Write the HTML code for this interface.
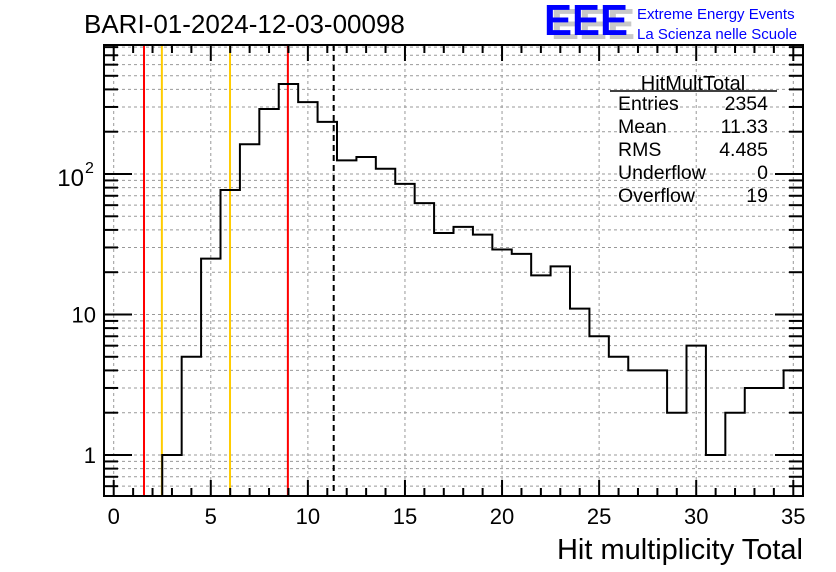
<!DOCTYPE html>
<html><head><meta charset="utf-8"><style>
body{margin:0;background:#fff;}
svg{display:block;font-family:"Liberation Sans",sans-serif;}
</style></head><body>
<svg id="c" width="836" height="572" viewBox="0 0 836 572">
<rect width="836" height="572" fill="#fff"/>
<text x="84" y="33" font-size="26">BARI-01-2024-12-03-00098</text>
<g>
<text x="551" y="39" font-size="44" font-weight="bold" fill="#c8c8c8" textLength="84" lengthAdjust="spacingAndGlyphs">EEE</text>
<text x="544" y="35" font-size="44" font-weight="bold" fill="#0000ff" textLength="84" lengthAdjust="spacingAndGlyphs">EEE</text>
<text x="637" y="19" font-size="15" fill="#0000ff">Extreme Energy Events</text>
<text x="637" y="39" font-size="15" fill="#0000ff">La Scienza nelle Scuole</text>
</g>
<g id="grid"></g>
<g id="marks"></g>
<g id="axes"></g>
<g font-size="19.5">
<text x="693" y="90" text-anchor="middle" font-size="20">HitMultTotal</text>
<line x1="610" y1="91" x2="777" y2="91" stroke="#000" stroke-width="1.5"/>
<text x="618" y="110">Entries</text><text x="768" y="110" text-anchor="end">2354</text>
<text x="618" y="133">Mean</text><text x="768" y="133" text-anchor="end">11.33</text>
<text x="618" y="156">RMS</text><text x="768" y="156" text-anchor="end">4.485</text>
<text x="618" y="179">Underflow</text><text x="768" y="179" text-anchor="end">0</text>
<text x="618" y="202">Overflow</text><text x="768" y="202" text-anchor="end">19</text>
</g>
<text x="803" y="559" font-size="29" text-anchor="end">Hit multiplicity Total</text>
</svg>
<script>
const binCenters=[0,1,2,3,4,5,6,7,8,9,10,11,12,13,14,15,16,17,18,19,20,21,22,23,24,25,26,27,28,29,30,31,32,33,34,35];
const counts=[0,0,0,1,5,25,77,163,290,437,325,235,125,132,109,85,62,38,42,37,29,27,19,22,11,7,5,4,4,2,6,1,2,3,3,4];
const redLines=[1.56,8.97];
const yellowLines=[2.48,5.99];
const meanLine=[11.33];
const xTicks=[0,5,10,15,20,25,30,35];
const yTickVals=[1,10,100];
const yTickBase=["1","10","10"];
const yTickExp=["","","2"];
const X0=104,X1=803,Y0=45,Y1=496,XMIN=-0.5,XMAX=35.5;
const sx=v=>X0+(v-XMIN)/(XMAX-XMIN)*(X1-X0);
const sy=v=>{if(v<=0)return Y1;let y=455-Math.log10(v)*140.5;return Math.min(Y1,y);};
const NS="http://www.w3.org/2000/svg";
function mk(tag,attrs,parent){const e=document.createElementNS(NS,tag);for(const k in attrs)e.setAttribute(k,attrs[k]);parent.appendChild(e);return e;}
const grid=document.getElementById('grid'),marks=document.getElementById('marks'),axes=document.getElementById('axes');
xTicks.forEach(t=>{const l=mk('line',{x1:sx(t),x2:sx(t),y1:Y0,y2:Y1,stroke:'#999','stroke-dasharray':'3,3'},grid);

});
const minorY=[];for(let d=0.1;d<=100;d*=10)for(let m=1;m<10;m++){const v=Math.round(d*m*1000)/1000;if(v>=0.51&&v<=810)minorY.push(v);}
minorY.forEach(v=>{const l=mk('line',{x1:X0,x2:X1,y1:sy(v),y2:sy(v),stroke:'#999','stroke-dasharray':'3,3'},grid);

});
redLines.forEach(v=>{const l=mk('line',{x1:sx(v),x2:sx(v),y1:Y0,y2:Y1,stroke:'#ff0000','stroke-width':2},marks);

});
yellowLines.forEach(v=>{const l=mk('line',{x1:sx(v),x2:sx(v),y1:Y0,y2:Y1,stroke:'#ffcc00','stroke-width':2},marks);

});
meanLine.forEach(v=>{const l=mk('line',{x1:sx(v),x2:sx(v),y1:Y0,y2:Y1,stroke:'#000','stroke-width':2,'stroke-dasharray':'6,4'},marks);

});
let d='';
binCenters.forEach((c,i)=>{const y=sy(counts[i]);const xl=sx(c-0.5),xr=sx(c+0.5);
d+=(i===0?'M':'L')+xl+','+y+'L'+xr+','+y;});
const h=mk('path',{d:d,fill:'none',stroke:'#000','stroke-width':2},marks);


const f=mk('rect',{x:X0,y:Y0,width:X1-X0,height:Y1-Y0,fill:'none',stroke:'#000','stroke-width':2},axes);


for(let t=0;t<=35;t++){const major=t%5===0;const len=major?16:8;
mk('line',{x1:sx(t),x2:sx(t),y1:Y1,y2:Y1-len,stroke:'#000','stroke-width':2},axes);
mk('line',{x1:sx(t),x2:sx(t),y1:Y0,y2:Y0+len,stroke:'#000','stroke-width':2},axes);}
xTicks.forEach(t=>{const tx=mk('text',{x:sx(t),y:524,'font-size':22,'text-anchor':'middle'},axes);tx.textContent=t;

});
minorY.forEach(v=>{const major=yTickVals.includes(v);const len=major?28:14;
mk('line',{x1:X0,x2:X0+len,y1:sy(v),y2:sy(v),stroke:'#000','stroke-width':2},axes);
mk('line',{x1:X1,x2:X1-len,y1:sy(v),y2:sy(v),stroke:'#000','stroke-width':2},axes);});
yTickVals.forEach((v,i)=>{
if(yTickExp[i]){
const tx=mk('text',{x:84,y:sy(v)+12,'font-size':24,'text-anchor':'end'},axes);tx.textContent=yTickBase[i];


const ex=mk('text',{x:85,y:sy(v)-1,'font-size':16},axes);ex.textContent=yTickExp[i];


}else{
const tx=mk('text',{x:96,y:sy(v)+8,'font-size':22,'text-anchor':'end'},axes);tx.textContent=yTickBase[i];

}
});
</script>
</body></html>
